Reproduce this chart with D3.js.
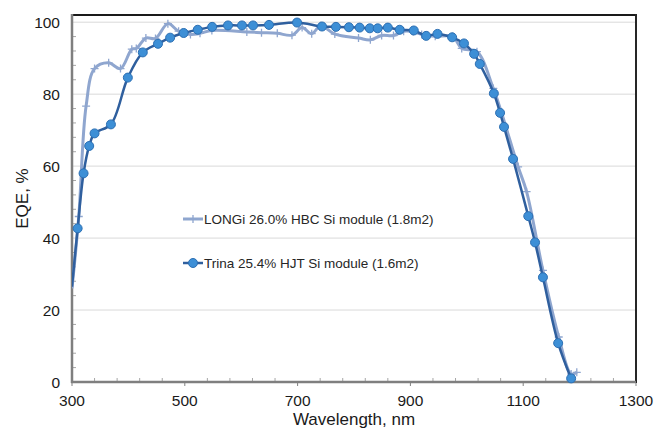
<!DOCTYPE html>
<html lang="en">
<head>
  <meta charset="UTF-8">
  <title>EQE of LONGi and Trina modules</title>
  <style>
    body { margin: 0; background: #fff; overflow: hidden; }
    svg { font-family: "Liberation Sans", Arial, sans-serif; }
  </style>
</head>
<body>
  <script src="https://d3js.org/d3.v7.min.js"></script>
  <script>
    // LONGi HBC module, wavelength (nm) and EQE (%)
    const longiWl = [300, 312, 325, 340, 365, 386, 406, 414, 431, 448, 470, 489, 510, 527, 548,
      610, 636, 664, 690, 708, 725, 741, 766, 808, 829, 849, 870, 888, 905, 920, 944, 975,
      991, 1018, 1047, 1091, 1106, 1135, 1163, 1185, 1195];
    const longiEqe = [26, 46, 76.7, 87.1, 88.7, 87.1, 92.5, 92.7, 95.6, 95.5, 99.6, 97.5, 96.6, 96.9, 97.7,
      97.3, 97.1, 96.9, 96.4, 98.5, 96.8, 99.0, 96.7, 95.6, 95.1, 96.3, 96.3, 97.5, 97.4, 96.6, 96.1, 96.0,
      92.7, 91.8, 81.6, 59.8, 52.9, 31, 12.5, 2.2, 2.7];

    // Trina HJT module
    const trinaWl = [300, 310, 320.5, 330.5, 340, 369, 399, 425.5, 452.5, 474, 498, 523, 548.5,
      576.6, 601.4, 621, 649.3, 699, 743.3, 768, 791, 810, 828, 842, 860, 881, 906, 928, 948,
      974, 995, 1013, 1023, 1048, 1059, 1066, 1082, 1109, 1121, 1135, 1162, 1185];
    const trinaEqe = [26.5, 42.7, 58, 65.6, 69.1, 71.6, 84.6, 91.6, 94.0, 95.7, 97.0, 97.9, 98.7,
      99.1, 99.1, 99.1, 99.25, 99.9, 98.8, 98.7, 98.6, 98.5, 98.3, 98.3, 98.5, 97.9, 97.7, 96.2, 96.75,
      95.8, 94.1, 91.2, 88.4, 80.2, 74.8, 70.9, 62.0, 46.1, 38.8, 29.1, 10.8, 1.0];

    const xTicks = [300, 500, 700, 900, 1100, 1300];
    const yTicks = [0, 20, 40, 60, 80, 100];
    const seriesNames = ["LONGi 26.0% HBC Si module (1.8m2)", "Trina 25.4% HJT Si module (1.6m2)"];

    const width = 654, height = 430;
    const pLeft = 72, pRight = 636, pTop = 15, pBottom = 382;

    const x = d3.scaleLinear().domain([300, 1300]).range([pLeft, pRight]);
    const y = d3.scaleLinear().domain([0, 102]).range([pBottom, pTop]);

    const svg = d3.select("body").append("svg")
      .attr("width", width)
      .attr("height", height);

    svg.append("defs").append("clipPath").attr("id", "plot-clip")
      .append("rect")
      .attr("x", pLeft).attr("y", pTop - 5)
      .attr("width", pRight - pLeft).attr("height", pBottom - pTop + 10);

    // horizontal gridlines
    svg.append("g").selectAll("line")
      .data(yTicks.filter(d => d > 0))
      .join("line")
      .attr("x1", pLeft).attr("x2", pRight)
      .attr("y1", d => y(d)).attr("y2", d => y(d))
      .attr("stroke", "#d9d9d9").attr("stroke-width", 1);

    // minor ticks (inside)
    svg.append("g").selectAll("line")
      .data(d3.range(4, 101, 4).filter(v => v % 20 !== 0))
      .join("line")
      .attr("x1", pLeft).attr("x2", pLeft + 4)
      .attr("y1", d => y(d)).attr("y2", d => y(d))
      .attr("stroke", "#a6a6a6");
    svg.append("g").selectAll("line")
      .data(d3.range(340, 1300, 40).filter(v => (v - 300) % 200 !== 0))
      .join("line")
      .attr("x1", d => x(d)).attr("x2", d => x(d))
      .attr("y1", pBottom).attr("y2", pBottom - 4)
      .attr("stroke", "#a6a6a6");
    // major ticks (outside)
    svg.append("g").selectAll("line")
      .data(xTicks)
      .join("line")
      .attr("x1", d => x(d)).attr("x2", d => x(d))
      .attr("y1", pBottom).attr("y2", pBottom + 4)
      .attr("stroke", "#808080");

    // frame: top and right dark, left and bottom gray axes
    svg.append("line").attr("x1", pLeft).attr("x2", pRight).attr("y1", pTop).attr("y2", pTop)
      .attr("stroke", "#1a1a1a").attr("stroke-width", 2);
    svg.append("line").attr("x1", pRight).attr("x2", pRight).attr("y1", pTop - 1).attr("y2", pBottom + 1)
      .attr("stroke", "#262626").attr("stroke-width", 2);
    svg.append("line").attr("x1", pLeft).attr("x2", pLeft).attr("y1", pTop - 1).attr("y2", pBottom + 1)
      .attr("stroke", "#7f7f7f").attr("stroke-width", 2.5);
    svg.append("line").attr("x1", pLeft - 1).attr("x2", pRight).attr("y1", pBottom).attr("y2", pBottom)
      .attr("stroke", "#7f7f7f").attr("stroke-width", 2.5);

    // tick labels
    svg.append("g").selectAll("text")
      .data(yTicks)
      .join("text")
      .attr("x", pLeft - 12).attr("y", d => y(d) + 5.5)
      .attr("text-anchor", "end")
      .attr("font-size", 15.5).attr("fill", "#1a1a1a")
      .text(d => d);
    svg.append("g").selectAll("text")
      .data(xTicks)
      .join("text")
      .attr("x", d => x(d)).attr("y", pBottom + 24)
      .attr("text-anchor", "middle")
      .attr("font-size", 15.5).attr("fill", "#1a1a1a")
      .text(d => d);

    // axis titles
    svg.append("text")
      .attr("transform", `translate(28,${(pTop + pBottom) / 2}) rotate(-90)`)
      .attr("text-anchor", "middle")
      .attr("font-size", 17).attr("fill", "#1a1a1a")
      .text("EQE, %");
    svg.append("text")
      .attr("x", (pLeft + pRight) / 2).attr("y", 425)
      .attr("text-anchor", "middle")
      .attr("font-size", 17).attr("fill", "#1a1a1a")
      .text("Wavelength, nm");

    const longi = longiWl.map((w, i) => [w, longiEqe[i]]);
    const trina = trinaWl.map((w, i) => [w, trinaEqe[i]]);

    const line = d3.line()
      .x(d => x(d[0])).y(d => y(d[1]))
      .curve(d3.curveCatmullRom.alpha(0.5));

    const plot = svg.append("g").attr("clip-path", "url(#plot-clip)");

    const longiColor = "#8fa6cf";
    const trinaLine = "#2f5f9e";
    const trinaFill = "#3d8fd6";
    const trinaStroke = "#2c6fb3";

    plot.append("path")
      .datum(longi)
      .attr("fill", "none")
      .attr("stroke", longiColor)
      .attr("stroke-width", 3)
      .attr("d", line);
    plot.append("g").selectAll("path")
      .data(longi.filter(d => d[0] > 300))
      .join("path")
      .attr("d", d => `M${x(d[0]) - 4},${y(d[1])}h8M${x(d[0])},${y(d[1]) - 4}v8`)
      .attr("stroke", longiColor).attr("stroke-width", 1.3);

    plot.append("path")
      .datum(trina)
      .attr("fill", "none")
      .attr("stroke", trinaLine)
      .attr("stroke-width", 2.5)
      .attr("d", line);
    plot.append("g").selectAll("circle")
      .data(trina.filter(d => d[0] > 300))
      .join("circle")
      .attr("cx", d => x(d[0])).attr("cy", d => y(d[1]))
      .attr("r", 4.5)
      .attr("fill", trinaFill).attr("stroke", trinaStroke).attr("stroke-width", 1);

    // legend
    const legend = svg.append("g").attr("font-size", 13.5).attr("fill", "#262626");
    const ly = [219, 263];
    legend.append("line").attr("x1", 183).attr("x2", 203).attr("y1", ly[0]).attr("y2", ly[0])
      .attr("stroke", longiColor).attr("stroke-width", 3);
    legend.append("path").attr("d", `M189,${ly[0]}h8M193,${ly[0] - 4}v8`)
      .attr("stroke", longiColor).attr("stroke-width", 1.3);
    legend.append("line").attr("x1", 183).attr("x2", 203).attr("y1", ly[1]).attr("y2", ly[1])
      .attr("stroke", trinaLine).attr("stroke-width", 2.5);
    legend.append("circle").attr("cx", 193).attr("cy", ly[1]).attr("r", 4.5)
      .attr("fill", trinaFill).attr("stroke", trinaStroke);
    legend.selectAll("text")
      .data(seriesNames)
      .join("text")
      .attr("x", 204).attr("y", (d, i) => ly[i] + 5)
      .text(d => d);
  </script>
</body>
</html>
